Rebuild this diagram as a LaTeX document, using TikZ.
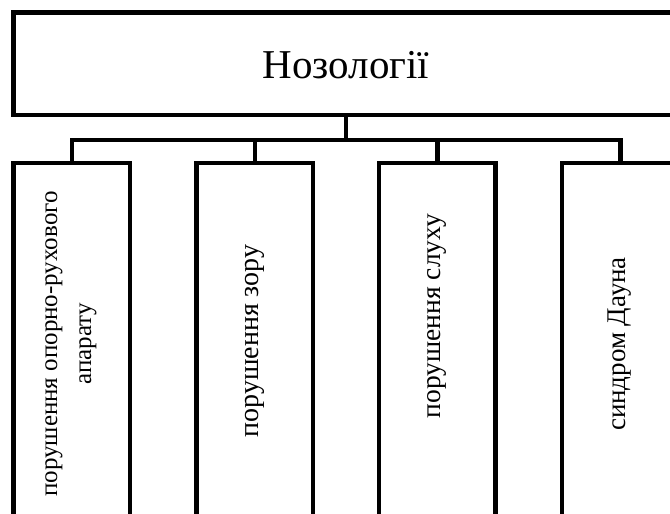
\documentclass[tikz,border=0pt]{standalone}
\usepackage{fontspec}
\setmainfont{Liberation Serif}
\begin{document}
\begin{tikzpicture}[x=1pt,y=-1pt,
  frame/.style={draw=black,line width=4.5pt,rectangle,inner sep=0pt,outer sep=0pt,fill=none},
  catbox/.style={frame,minimum width=116.5pt,minimum height=367pt},
  vlabel/.style={rotate=90,align=center,inner sep=0pt},
  link/.style={line width=4.5pt,line cap=rect}]
\clip (0,0) rectangle (670,514);
\fill[white] (0,0) rectangle (670,514);
\node[frame,minimum width=676.5pt,minimum height=102.5pt] (top) at (351.75,63.75) {};
\node[font=\fontsize{41}{48}\selectfont,inner sep=0pt] (title) at (346,65) {Нозології};
\node[catbox] (b1) at (71.75,346.5) {};
\node[catbox] (b2) at (254.75,346.5) {};
\node[catbox] (b3) at (437.25,346.5) {};
\node[catbox] (b4) at (620.25,346.5) {};
\coordinate (hub) at (346,140);
\node[vlabel,font=\fontsize{25}{34}\selectfont] (t1) at (71,344) {порушення опорно-рухового\\апарату};
\node[vlabel,font=\fontsize{28}{33}\selectfont] (t2) at (255,341) {порушення зору};
\node[vlabel,font=\fontsize{27.5}{33}\selectfont] (t3) at (437,316) {порушення слуху};
\node[vlabel,font=\fontsize{27}{33}\selectfont] (t4) at (620,344) {синдром Дауна};
\draw[link] (top.south -| hub) -- (hub);
\draw[line width=4.5pt] (b1.north) -- (b1.north |- hub) -- (b4.north |- hub) -- (b4.north);
\draw[link] (b2.north) -- (b2.north |- hub);
\draw[link] (b3.north) -- (b3.north |- hub);
\end{tikzpicture}
\end{document}
